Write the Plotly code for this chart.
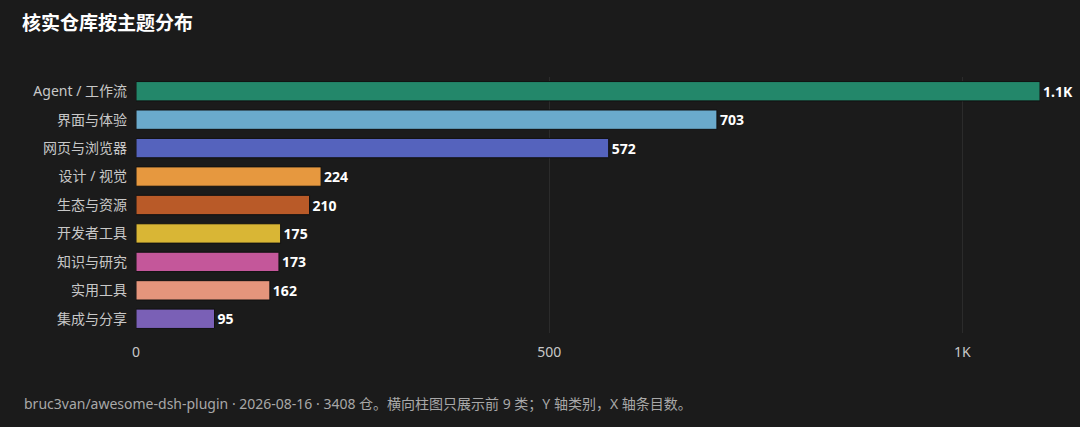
import plotly.graph_objects as go

# data
categories = ["Agent / 工作流", "界面与体验", "网页与浏览器", "设计 / 视觉", "生态与资源",
              "开发者工具", "知识与研究", "实用工具", "集成与分享"]
counts = [1094, 703, 572, 224, 210, 175, 173, 162, 95]
labels = ["1.1K", "703", "572", "224", "210", "175", "173", "162", "95"]
colors = ["#23876a", "#6aaacc", "#5563bd", "#e6983f", "#b95a28",
          "#d9b635", "#c4579a", "#e5957c", "#7a60b6"]

tick_vals = [0, 500, 1000]
tick_text = ["0", "500", "1K"]

bg = "#1b1b1b"
font = "Noto Sans, Noto Sans CJK SC"

fig = go.Figure()
fig.add_trace(go.Bar(
    x=counts, y=categories, orientation="h",
    marker=dict(color=colors, line=dict(color="#111111", width=1)),
    text=labels, textposition="outside", cliponaxis=False,
    textfont=dict(color="#ffffff", size=14, family=font, weight="bold"),
    hoverinfo="skip",
))

fig.update_layout(
    width=1080, height=427,
    paper_bgcolor=bg, plot_bgcolor=bg,
    margin=dict(l=136, r=40, t=77, b=94),
    bargap=0.32,
    showlegend=False,
    font=dict(family=font, color="#c8c8c8", size=14),
    title=dict(text="<b>核实仓库按主题分布</b>", x=22 / 1080, xanchor="left",
               y=1 - 23 / 427, yanchor="middle",
               font=dict(size=19, color="#ffffff", family=font)),
    xaxis=dict(range=[0, 1094], tickvals=tick_vals, ticktext=tick_text,
               showgrid=True, gridcolor="#2b2b2b", gridwidth=1,
               zeroline=False, showline=False, ticks="",
               ticklabelstandoff=9,
               tickfont=dict(color="#c8c8c8", size=14)),
    yaxis=dict(autorange="reversed", showgrid=False, zeroline=False,
               ticks="", ticklabelstandoff=8,
               tickfont=dict(color="#c8c8c8", size=14)),
)

fig.add_annotation(
    text="bruc3van/awesome-dsh-plugin · 2026-08-16 · 3408 仓。横向柱图只展示前 9 类；Y 轴类别，X 轴条目数。",
    xref="paper", yref="paper", x=(22 - 136) / 904, y=(333 - 403) / 256,
    xanchor="left", yanchor="middle",
    showarrow=False, font=dict(size=14, color="#a8a8a8", family=font),
)

fig.write_html(
    "out.html",
    config={"displayModeBar": False},
    post_script="document.body.style.margin='0';document.body.style.background='#1b1b1b';",
)
